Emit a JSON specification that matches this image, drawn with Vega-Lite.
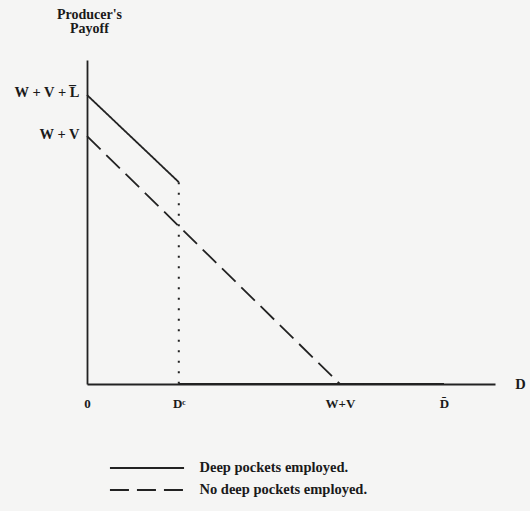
{
  "$schema": "https://vega.github.io/schema/vega-lite/v6.json",
  "width": 408,
  "height": 324,
  "autosize": {"type": "none"},
  "padding": {"left": 87, "top": 60, "right": 35, "bottom": 127},
  "background": "#f5f5f4",
  "config": {
    "view": {"stroke": null},
    "font": "Liberation Serif"
  },
  "data": {
    "values": [
      {"kind": "line", "series": "Deep pockets employed.", "seg": "a", "x": 0, "y": 89.2},
      {"kind": "line", "series": "Deep pockets employed.", "seg": "a", "x": 22.5, "y": 62.3},
      {"kind": "line", "series": "Deep pockets employed.", "seg": "b", "x": 22.5, "y": 0},
      {"kind": "line", "series": "Deep pockets employed.", "seg": "b", "x": 87.5, "y": 0},
      {"kind": "line", "series": "No deep pockets employed.", "seg": "c", "x": 0, "y": 76.5},
      {"kind": "line", "series": "No deep pockets employed.", "seg": "c", "x": 62, "y": 0},
      {"kind": "line", "series": "No deep pockets employed.", "seg": "c", "x": 87.5, "y": 0},
      {"kind": "guide", "series": "Dc", "seg": "d", "x": 22.5, "y": 62.3, "y0": 0}
    ]
  },
  "encoding": {
    "x": {
      "field": "x",
      "type": "quantitative",
      "scale": {"domain": [0, 100], "nice": false, "zero": false},
      "axis": {
        "title": "D",
        "titleX": 433,
        "titleY": 0,
        "titleAlign": "center",
        "titleBaseline": "middle",
        "titleFont": "Liberation Serif",
        "titleFontWeight": "bold",
        "titleFontSize": 14.5,
        "titleColor": "#1a1a1a",
        "values": [0, 22.5, 62, 87.5],
        "labelExpr": "datum.value == 0 ? '0' : datum.value == 22.5 ? 'D\u1d9c' : datum.value == 62 ? 'W+V' : 'D\u0304'",
        "labelFont": "Liberation Serif",
        "labelFontWeight": "bold",
        "labelFontSize": 13,
        "labelColor": "#1a1a1a",
        "labelBaseline": "top",
        "labelPadding": 13,
        "labelFlush": false,
        "labelOverlap": false,
        "ticks": false,
        "grid": false,
        "domainColor": "#222",
        "domainWidth": 1.8
      }
    },
    "y": {
      "field": "y",
      "type": "quantitative",
      "scale": {"domain": [0, 100], "nice": false, "zero": false},
      "axis": {
        "title": ["Producer's", "Payoff"],
        "titleAngle": 0,
        "titleX": 2,
        "titleY": -42,
        "titleAlign": "center",
        "titleBaseline": "alphabetic",
        "titleLineHeight": 14.5,
        "titleFont": "Liberation Serif",
        "titleFontWeight": "bold",
        "titleFontSize": 14,
        "titleColor": "#1a1a1a",
        "values": [76.5, 89.2],
        "labelExpr": "datum.value > 80 ? 'W + V + L\u0305' : 'W + V'",
        "labelFont": "Liberation Serif",
        "labelFontWeight": "bold",
        "labelFontSize": 14.5,
        "labelColor": "#1a1a1a",
        "labelPadding": 8,
        "labelOffset": -2,
        "labelOverlap": false,
        "labelFlush": false,
        "ticks": false,
        "grid": false,
        "domainColor": "#222",
        "domainWidth": 1.8
      }
    }
  },
  "layer": [
    {
      "transform": [{"filter": "datum.kind == 'line'"}],
      "mark": {"type": "line", "color": "#222", "strokeWidth": 1.8, "strokeCap": "butt"},
      "encoding": {
        "detail": {"field": "seg"},
        "order": {"field": "x"},
        "strokeDash": {
          "field": "series",
          "type": "nominal",
          "scale": {
            "domain": ["Deep pockets employed.", "No deep pockets employed."],
            "range": [[1, 0], [19, 8]]
          },
          "legend": {
            "orient": "none",
            "legendX": 49.5,
            "legendY": 397.5,
            "title": null,
            "padding": 0,
            "symbolType": "M-3.9,0H3.9",
            "symbolSize": 361,
            "symbolStrokeColor": "#222",
            "symbolFillColor": "transparent",
            "symbolStrokeWidth": 1.8,
            "labelFont": "Liberation Serif",
            "labelFontWeight": "bold",
            "labelFontSize": 14.5,
            "labelColor": "#1a1a1a",
            "labelOffset": 42,
            "labelLimit": 400,
            "rowPadding": 5
          }
        }
      }
    },
    {
      "transform": [{"filter": "datum.kind == 'guide'"}],
      "mark": {"type": "rule", "color": "#222", "strokeWidth": 2, "strokeDash": [2, 8.5], "strokeCap": "butt"},
      "encoding": {
        "y2": {"field": "y0"}
      }
    }
  ]
}
